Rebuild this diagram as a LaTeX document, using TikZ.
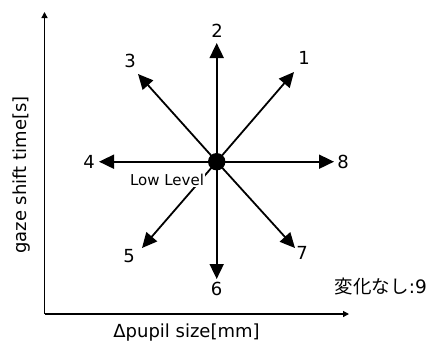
\documentclass[tikz,border=0pt]{standalone}
\usepackage{fontspec}
\setmainfont{DejaVu Sans}
\newfontfamily\jpfont{Noto Sans CJK JP}
\usetikzlibrary{arrows.meta}
\begin{document}
\begin{tikzpicture}[x=1pt,y=-1pt,
  dirarrow/.style={line width=1.8pt,-{Triangle[length=15pt,width=14pt]}},
  axisline/.style={line width=1.3pt,-{Triangle[length=6pt,width=6pt]}},
  numlabel/.style={font=\fontsize{18}{20}\selectfont,inner sep=0pt},
  axislabel/.style={font=\fontsize{18}{20}\selectfont,inner sep=0pt}]
\useasboundingbox (0,0) rectangle (427,343);
% axes
\coordinate (O) at (44.5,314);
\coordinate (Ytop) at (44.5,12);
\coordinate (Xend) at (349,314);
\draw[axisline] (O) -- (Ytop);
\draw[axisline] (O) -- (Xend);
% center
\coordinate (C) at (216.7,161.7);
\coordinate (t1) at (294,72);
\coordinate (t2) at (216.7,43);
\coordinate (t3) at (138,74);
\coordinate (t4) at (99,161.7);
\coordinate (t5) at (142,248);
\coordinate (t6) at (216.7,279);
\coordinate (t7) at (295,248);
\coordinate (t8) at (334,161.7);
\foreach \t in {t1,t2,t3,t4,t5,t6,t7,t8} \draw[dirarrow] (C) -- (\t);
\node[fill=white,inner sep=1pt,font=\fontsize{15}{17}\selectfont] (low) at (167,180) {Low Level};
\fill (C) circle (8.7);
\node[circle,minimum size=17pt,inner sep=0pt] (c) at (C) {};
% labels
\node[numlabel] (l1) at (304,58) {1};
\node[numlabel] (l2) at (217,31) {2};
\node[numlabel] (l3) at (130,61) {3};
\node[numlabel] (l4) at (89,161.5) {4};
\node[numlabel] (l5) at (129,256) {5};
\node[numlabel] (l6) at (216.5,289) {6};
\node[numlabel] (l7) at (302,253) {7};
\node[numlabel] (l8) at (343,162) {8};
\node[inner sep=0pt,anchor=east,font=\fontsize{18.5}{20}\selectfont] (nc) at (427,286) {{\jpfont 変化なし}:9};
\node[axislabel] (xl) at (186.5,333) {Δpupil size[mm]};
\node[axislabel,rotate=90] (yl) at (22,175) {gaze shift time[s]};
\end{tikzpicture}
\end{document}
